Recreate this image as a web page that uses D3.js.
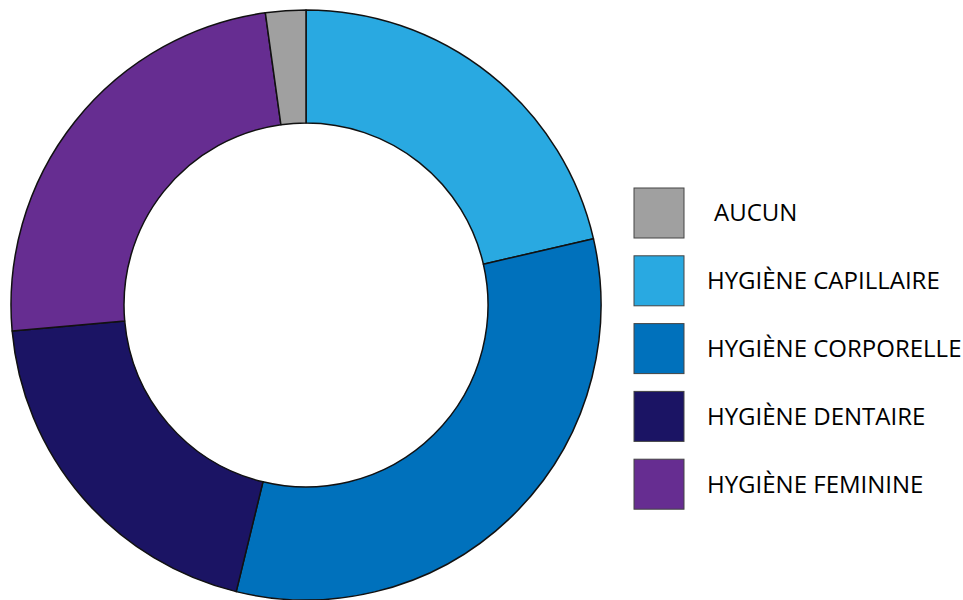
<!DOCTYPE html>
<html>
<head>
<meta charset="utf-8">
<script src="https://cdn.jsdelivr.net/npm/d3@7"></script>
<style>
  html, body { margin: 0; padding: 0; background: #fff; }
  svg { display: block; }
</style>
</head>
<body>
<svg id="chart" width="963" height="600"></svg>
<script>
// Legend order of the categories
const categories = ["AUCUN", "HYGIÈNE CAPILLAIRE", "HYGIÈNE CORPORELLE", "HYGIÈNE DENTAIRE", "HYGIÈNE FEMININE"];
// Share of each category (%)
const values = [2.2, 21.4, 32.4, 19.8, 24.2];
const colors = ["#a0a0a0", "#29a9e1", "#0071bc", "#1b1464", "#662d91"];
// Order in which the slices run clockwise from twelve o'clock
const sliceOrder = ["HYGIÈNE CAPILLAIRE", "HYGIÈNE CORPORELLE", "HYGIÈNE DENTAIRE", "HYGIÈNE FEMININE", "AUCUN"];

const data = categories.map((c, i) => ({ name: c, value: values[i], color: colors[i] }));
const byName = new Map(data.map(d => [d.name, d]));
const sliceData = sliceOrder.map(n => byName.get(n));

const svg = d3.select("#chart");
const cx = 306, cy = 305, outerR = 295, innerR = 182;

const pie = d3.pie().sort(null).value(d => d.value);
const arc = d3.arc().innerRadius(innerR).outerRadius(outerR);

const g = svg.append("g").attr("transform", `translate(${cx},${cy})`);
g.selectAll("path.slice")
  .data(pie(sliceData))
  .join("path")
  .attr("class", "slice")
  .attr("d", arc)
  .attr("fill", d => d.data.color)
  .attr("stroke", "#111")
  .attr("stroke-width", 1.5)
  .attr("stroke-linejoin", "round");

// Legend
const legend = svg.append("g").attr("transform", "translate(634,188)");
const item = legend.selectAll("g.item")
  .data(data)
  .join("g")
  .attr("class", "item")
  .attr("transform", (d, i) => `translate(0,${i * 67.8})`);

item.append("rect")
  .attr("width", 50)
  .attr("height", 50)
  .attr("fill", d => d.color)
  .attr("stroke", "#444")
  .attr("stroke-width", 1);

item.append("text")
  .attr("x", d => d.name === "AUCUN" ? 80 : 73)
  .attr("y", 25)
  .attr("dy", "0.35em")
  .attr("font-family", "'Open Sans', 'Noto Sans', sans-serif")
  .attr("font-size", 24)
  .attr("fill", "#000")
  .text(d => d.name);
</script>
</body>
</html>
